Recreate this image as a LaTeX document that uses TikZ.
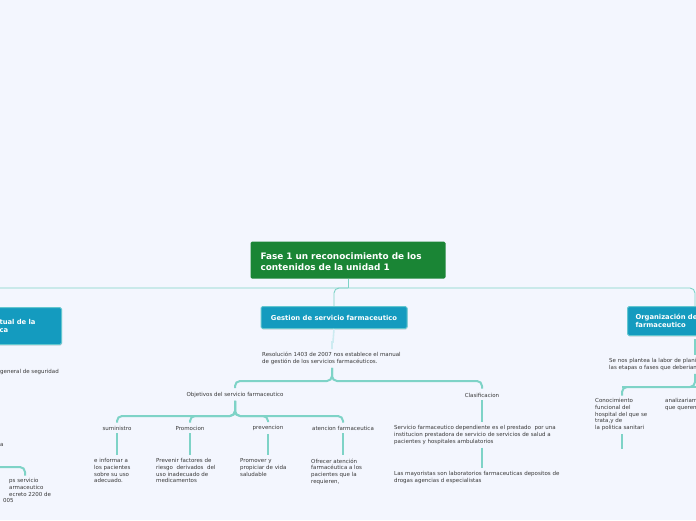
\documentclass[tikz,border=0pt]{standalone}
\usepackage{fontspec}
\setmainfont{DejaVu Sans}
\usetikzlibrary{shadows}
\definecolor{bgblue}{HTML}{F3F6FE}
\definecolor{rootgreen}{HTML}{1A8535}
\definecolor{topicblue}{HTML}{149BBF}
\definecolor{topicrim}{HTML}{63C6CF}
\definecolor{linkteal}{HTML}{7ED3C7}
\definecolor{linkpale}{HTML}{CDEBF1}
\definecolor{inkgray}{HTML}{383838}
\begin{document}
\begin{tikzpicture}[x=1pt, y=-1pt,
    every node/.style={font=\fontsize{5.5}{6.7}\selectfont, text=inkgray, inner sep=0pt},
    root/.style={fill=rootgreen, rounded corners=1.5pt, text=white,
                 font=\fontsize{8.9}{11}\selectfont\bfseries, align=left,
                 minimum width=195pt, minimum height=37pt, text width=175pt},
    topic/.style={fill=topicblue, draw=topicrim, line width=1pt, rounded corners=1.5pt,
                  text=white, font=\fontsize{6.8}{8.5}\selectfont\bfseries,
                  inner xsep=8pt, drop shadow={opacity=0.25, shadow xshift=0.6pt, shadow yshift=-1pt}},
    leaf/.style={align=left, anchor=north west},
    mainlink/.style={draw=linkteal, line width=0.9pt, rounded corners=5pt},
    palelink/.style={draw=linkpale, line width=1.6pt},
    sublink/.style={draw=linkteal, line width=2pt, rounded corners=5pt,
                    shorten <=3pt, shorten >=3pt}
]
\useasboundingbox (0,0) rectangle (696,520);
\fill[bgblue] (0,0) rectangle (696,520);

% Central topic
\node[root] (root) at (348,260)
    {\rule{0pt}{10pt}Fase 1 un reconocimiento de los\\contenidos de la unidad 1};
\coordinate (hub) at (348,288);
\coordinate (hubleft) at (-20,288);
\coordinate (rstem) at (695,0);
\coordinate (ckx) at (622,0);
\coordinate (gx) at (332,0);

% Main topics
\node[topic, anchor=north east, minimum width=70pt, minimum height=37pt,
      text width=54pt, align=left] (situ) at (62,307) {tual de la\\ca};
\node[topic, minimum width=146pt, minimum height=22pt] (gestion) at (334,317.5)
    {Gestion de servicio farmaceutico};
\node[topic, anchor=north west, minimum width=100pt, minimum height=29pt,
      text width=84pt, align=left] (organ) at (627,306) {Organización de\\farmaceutico};

\draw[mainlink] (root.south) -- (hub);
\draw[mainlink] (hubleft) -- (hub) -| (organ.north -| rstem);
\draw[mainlink] (hub) -| (gestion.north);

% Left branch (cut by the page edge)
\node[anchor=west] (segur) at (0,372) {general de seguridad};
\node[anchor=west] (aleft) at (0,445) {a};
\node[leaf] (decreto) at (9,478.5)
    {ps servicio\\armaceutico\\ecreto 2200 de\\\hspace*{-6pt}005};
\coordinate (leftend) at (-10,467);
\draw[sublink, shorten <=0pt] (leftend) -| (decreto.north -| 25,0);

% Gestion de servicio farmaceutico
\node[leaf, anchor=west] (resol) at (262,358.5)
    {Resolución 1403 de 2007 nos establece el manual\\de gestión de los servicios farmacéuticos.};
\draw[palelink] (gestion.south) -- (333,342) -- (332,342) -- (332,349);

\node (objet) at (235,395) {Objetivos del servicio farmaceutico};
\node (clasif) at (482,395) {Clasificacion};
\draw[sublink, shorten >=4pt] (resol.south -| gx) -- (332,381) -| (objet.north);
\draw[sublink, shorten >=4pt] (resol.south -| gx) -- (332,381) -| (clasif.north);

% Objetivos
\node (sumin) at (117,428) {suministro};
\node (promo) at (190,428) {Promocion};
\node (preven) at (268,428) {prevencion};
\node (atenc) at (343,428) {atencion farmaceutica};
\foreach \child in {sumin, promo, preven, atenc}
    \draw[sublink] (objet.south) -- (235,416) -| (\child.north);

\node[leaf] (suminTxt) at (94,458.5) {e informar a\\los pacientes\\sobre su uso\\adecuado.};
\node[leaf] (promoTxt) at (156,458.5) {Prevenir factores de\\riesgo~ derivados~ del\\uso inadecuado de\\medicamentos};
\node[leaf] (prevenTxt) at (240,458.5) {Promover y\\propiciar de vida\\saludable};
\node[leaf] (atencTxt) at (311,458.5) {Ofrecer atención\\farmacéutica a los\\pacientes que la\\requieren,};
\draw[sublink, shorten >=4pt] (sumin.south) -- (sumin.south |- suminTxt.north);
\draw[sublink, shorten >=4pt] (promo.south) -- (promo.south |- promoTxt.north);
\draw[sublink, shorten >=4pt] (preven.south) -- (preven.south |- prevenTxt.north);
\draw[sublink, shorten >=4pt] (atenc.south) -- (atenc.south |- atencTxt.north);

% Clasificacion
\node[leaf] (servTxt) at (394,425.5)
    {Servicio farmaceutico dependiente es el prestado~ por una\\institucion prestadora de servicio de servicios de salud a\\pacientes y hospitales ambulatorios};
\node[leaf] (mayorTxt) at (394,471.5)
    {Las mayoristas son laboratorios farmaceuticas depositos de\\drogas agencias d especialistas};
\draw[sublink, shorten >=4pt] (clasif.south) -- (clasif.south |- servTxt.north);
\draw[sublink, shorten >=4pt] (clasif.south |- servTxt.south) -- (clasif.south |- mayorTxt.north);

% Organizacion (cut by the page edge)
\node[leaf] (planTxt) at (609,358.5)
    {Se nos plantea la labor de plani\\las etapas o fases que deberian};
\node[leaf] (conoc) at (595,398.5)
    {Conocimiento\\funcional del\\hospital del que se\\trata,y de\\la politica sanitari};
\node[leaf] (analiz) at (665,398.5) {analizariam\\que queren};
\draw[sublink, shorten >=4pt] (organ.south -| rstem) -- (planTxt.north -| rstem);
\draw[sublink] (planTxt.south -| rstem) -- (695,387) -| (conoc.north -| ckx);
\draw[sublink, shorten <=0pt, shorten >=0pt] (622,387) -- (705,387);
\draw[sublink, shorten >=4pt] (conoc.south -| ckx) -- ++(0,22);

\end{tikzpicture}
\end{document}
